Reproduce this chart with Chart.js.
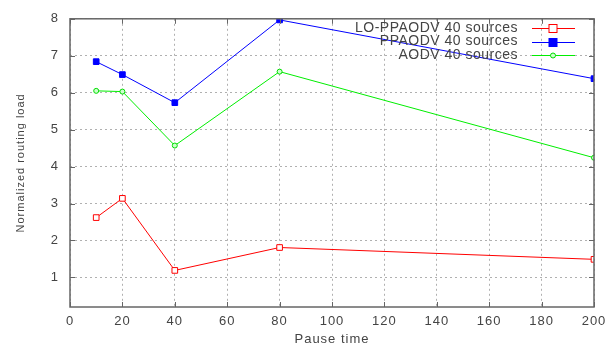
<!DOCTYPE html>
<html>
<head>
<meta charset="utf-8">
<script src="https://cdn.jsdelivr.net/npm/chart.js@4"></script>
<style>
  html, body { margin: 0; padding: 0; background: #fff; }
  #wrap { width: 615px; height: 347px; }
</style>
</head>
<body>
<div id="wrap"><canvas id="chart" width="615" height="347"></canvas></div>
<script>
// Pause time values (x) and routing load per protocol
const pauseTimes = [10, 20, 40, 80, 200];
const loPpaodv = [2.62, 3.14, 1.19, 1.81, 1.49];
const ppaodv = [6.84, 6.49, 5.73, 7.97, 6.38];
const aodv = [6.05, 6.03, 4.57, 6.57, 4.24];
const xTicks = [0, 20, 40, 60, 80, 100, 120, 140, 160, 180, 200];
const yTicks = [1, 2, 3, 4, 5, 6, 7, 8];
const seriesNames = ['LO-PPAODV 40 sources', 'PPAODV 40 sources', 'AODV 40 sources'];
const lineColors = ['#ff0000', '#0000ff', '#00ee00'];

const FONT = "'Liberation Sans', Arial, sans-serif";
const TEXT = '#444';

function toPoints(vals) {
    return pauseTimes.map((t, i) => ({ x: t, y: vals[i] }));
}

// wider letter spacing, the original text is a bit spread out
const spacingPlugin = {
    id: 'spacing',
    beforeDraw(chart) {
        chart.ctx.letterSpacing = '1px';
    }
};

// Box + inward tick marks like gnuplot
const framePlugin = {
    id: 'frame',
    afterDatasetsDraw(chart) {
        const { ctx, chartArea: a, scales } = chart;
        ctx.save();
        ctx.setLineDash([]);
        ctx.strokeStyle = '#666';
        ctx.lineWidth = 1;
        ctx.beginPath();
        scales.x.ticks.forEach(t => {
            const px = Math.round(scales.x.getPixelForValue(t.value)) + 0.5;
            ctx.moveTo(px, a.bottom); ctx.lineTo(px, a.bottom - 5);
            ctx.moveTo(px, a.top); ctx.lineTo(px, a.top + 5);
        });
        scales.y.ticks.forEach(t => {
            const py = Math.round(scales.y.getPixelForValue(t.value)) + 0.5;
            ctx.moveTo(a.left, py); ctx.lineTo(a.left + 5, py);
            ctx.moveTo(a.right, py); ctx.lineTo(a.right - 5, py);
        });
        ctx.stroke();
        ctx.lineWidth = 1.5;
        ctx.strokeRect(a.left, a.top, a.right - a.left, a.bottom - a.top);
        ctx.restore();
    }
};

// Legend inside top right: text then line sample with marker
const keyPlugin = {
    id: 'key',
    afterDatasetsDraw(chart) {
        const { ctx } = chart;
        ctx.save();
        ctx.setLineDash([]);
        ctx.font = '14px ' + FONT;
        ctx.letterSpacing = '0.5px';
        ctx.textAlign = 'right';
        ctx.textBaseline = 'middle';
        chart.data.datasets.forEach((ds, i) => {
            const y = 28 + i * 13.5;
            const ly = Math.round(y) + 0.5;
            ctx.fillStyle = TEXT;
            ctx.fillText(seriesNames[i], 518, y);
            ctx.strokeStyle = lineColors[i];
            ctx.lineWidth = 1;
            ctx.beginPath();
            ctx.moveTo(532, ly);
            ctx.lineTo(575, ly);
            ctx.stroke();
            const r = ds.pointRadius;
            ctx.fillStyle = ds.pointBackgroundColor;
            ctx.strokeStyle = ds.pointBorderColor;
            if (ds.pointStyle === 'rect') {
                ctx.fillRect(553 - r, ly - r, 2 * r, 2 * r);
                ctx.strokeRect(553 - r, ly - r, 2 * r, 2 * r);
            } else {
                ctx.beginPath();
                ctx.arc(553, ly, r, 0, Math.PI * 2);
                ctx.fill();
                ctx.stroke();
            }
        });
        ctx.restore();
    }
};

new Chart(document.getElementById('chart'), {
    type: 'line',
    data: {
        datasets: [
            {
                label: seriesNames[0],
                data: toPoints(loPpaodv),
                borderColor: lineColors[0],
                borderWidth: 1,
                pointStyle: 'rect',
                pointRadius: 4,
                pointBorderWidth: 1,
                pointBorderColor: '#ff0000',
                pointBackgroundColor: '#ffffff'
            },
            {
                label: seriesNames[1],
                data: toPoints(ppaodv),
                borderColor: lineColors[1],
                borderWidth: 1,
                pointStyle: 'rect',
                pointRadius: 4,
                pointBorderWidth: 1,
                pointBorderColor: '#0000ff',
                pointBackgroundColor: '#0000ff'
            },
            {
                label: seriesNames[2],
                data: toPoints(aodv),
                borderColor: lineColors[2],
                borderWidth: 1,
                pointStyle: 'circle',
                pointRadius: 2.5,
                pointBorderWidth: 1,
                pointBorderColor: '#00dd00',
                pointBackgroundColor: '#ccffcc'
            }
        ]
    },
    options: {
        responsive: false,
        animation: false,
        layout: { padding: { left: 0, right: 21, top: 18, bottom: 0 } },
        plugins: { legend: { display: false }, tooltip: { enabled: false } },
        scales: {
            x: {
                type: 'linear',
                min: 0,
                max: 200,
                afterBuildTicks: s => { s.ticks = xTicks.map(v => ({ value: v })); },
                afterFit: s => { s.height = 40; },
                grid: { color: '#b0b0b0', drawTicks: false },
                border: { display: false, dash: [2, 3] },
                ticks: { color: TEXT, font: { family: FONT, size: 13 }, padding: 7 },
                title: { display: true, text: 'Pause time', color: TEXT, font: { family: FONT, size: 13 }, padding: { top: 0, bottom: 0 } }
            },
            y: {
                min: 0.2,
                max: 8,
                afterBuildTicks: s => { s.ticks = yTicks.map(v => ({ value: v })); },
                afterFit: s => { s.width = 70; },
                grid: { color: '#b0b0b0', drawTicks: false },
                border: { display: false, dash: [2, 3] },
                ticks: { color: TEXT, font: { family: FONT, size: 13 }, padding: 11 },
                title: { display: true, text: 'Normalized routing load', color: TEXT, font: { family: FONT, size: 11 }, padding: { top: 14, bottom: 0 } }
            }
        }
    },
    plugins: [spacingPlugin, framePlugin, keyPlugin]
});
</script>
</body>
</html>
